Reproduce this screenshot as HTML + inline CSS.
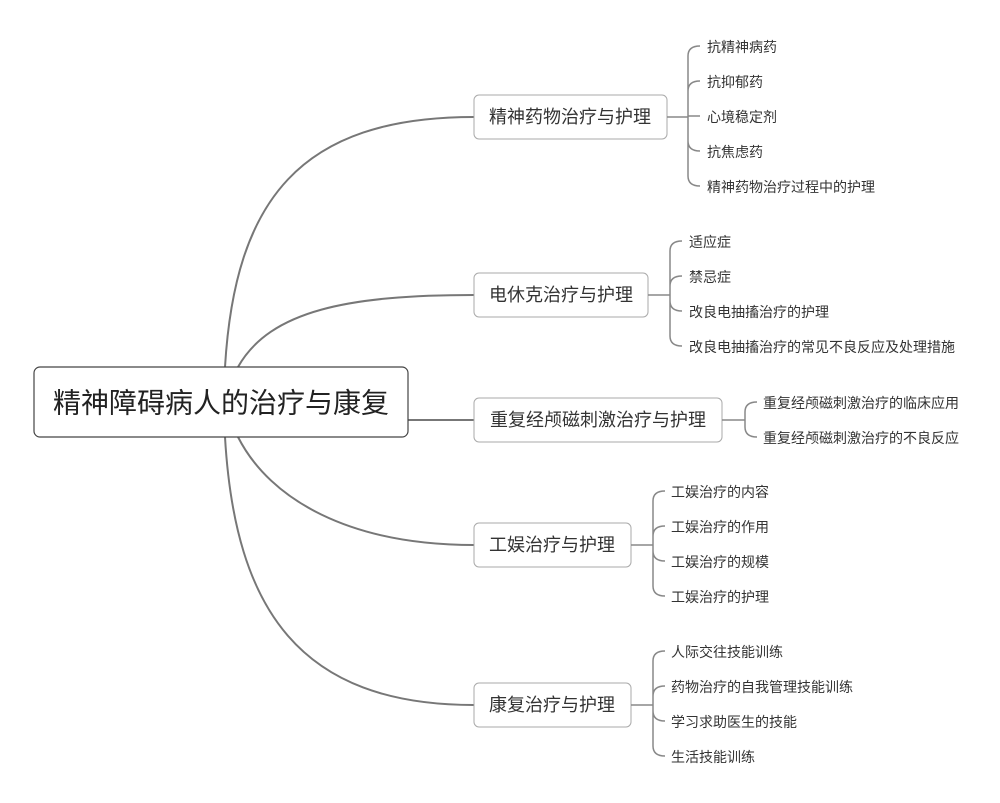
<!DOCTYPE html>
<html><head><meta charset="utf-8"><style>
body{margin:0;background:#fff;}
svg{display:block;font-family:"Liberation Sans","Noto Sans CJK SC",sans-serif;}
.l{font-size:14px;fill:#333;dominant-baseline:central;}
.b{font-size:18px;fill:#333;dominant-baseline:central;}
.c{fill:none;stroke:#888;stroke-width:1.5;}
.m{fill:none;stroke:#777;stroke-width:2;}
</style></head><body>
<svg width="1000" height="803" viewBox="0 0 1000 803">
<path class="m" d="M225 367 C235 200 300 117 474 117"/>
<path class="m" d="M238 367 C270 310 350 295 474 295"/>
<path class="m" d="M408 420 L474 420"/>
<path class="m" d="M238 437 C270 500 350 545 474 545"/>
<path class="m" d="M225 437 C235 610 300 705 474 705"/>
<rect x="34" y="367" width="374" height="70" rx="6" fill="#fff" stroke="#444" stroke-width="1.2"/>
<text x="221" y="403" text-anchor="middle" style="font-size:28px;fill:#222;dominant-baseline:central">精神障碍病人的治疗与康复</text>
<rect x="474" y="95" width="193" height="44" rx="5" fill="#fff" stroke="#aaa"/>
<text class="b" x="570" y="117" text-anchor="middle">精神药物治疗与护理</text>
<rect x="474" y="273" width="174" height="44" rx="5" fill="#fff" stroke="#aaa"/>
<text class="b" x="561" y="295" text-anchor="middle">电休克治疗与护理</text>
<rect x="474" y="398" width="248" height="44" rx="5" fill="#fff" stroke="#aaa"/>
<text class="b" x="598" y="420" text-anchor="middle">重复经颅磁刺激治疗与护理</text>
<rect x="474" y="523" width="157" height="44" rx="5" fill="#fff" stroke="#aaa"/>
<text class="b" x="552" y="545" text-anchor="middle">工娱治疗与护理</text>
<rect x="474" y="683" width="157" height="44" rx="5" fill="#fff" stroke="#aaa"/>
<text class="b" x="552" y="705" text-anchor="middle">康复治疗与护理</text>
<path class="c" d="M667 117 L688 117 M688 117 L688 56 Q688 46 700 46 M688 117 L688 91 Q688 81 700 81 M688 116 L700 116 M688 117 L688 141 Q688 151 700 151 M688 117 L688 176 Q688 186 700 186"/>
<text class="l" x="707" y="47">抗精神病药</text>
<text class="l" x="707" y="82">抗抑郁药</text>
<text class="l" x="707" y="117">心境稳定剂</text>
<text class="l" x="707" y="152">抗焦虑药</text>
<text class="l" x="707" y="187">精神药物治疗过程中的护理</text>
<path class="c" d="M648 295 L670 295 M670 295 L670 251 Q670 241 682 241 M670 295 L670 286 Q670 276 682 276 M670 295 L670 301 Q670 311 682 311 M670 295 L670 336 Q670 346 682 346"/>
<text class="l" x="689" y="242">适应症</text>
<text class="l" x="689" y="277">禁忌症</text>
<text class="l" x="689" y="312">改良电抽搐治疗的护理</text>
<text class="l" x="689" y="347">改良电抽搐治疗的常见不良反应及处理措施</text>
<path class="c" d="M722 420 L745 420 M745 420 L745 412 Q745 402 757 402 M745 420 L745 427 Q745 437 757 437"/>
<text class="l" x="763" y="403">重复经颅磁刺激治疗的临床应用</text>
<text class="l" x="763" y="438">重复经颅磁刺激治疗的不良反应</text>
<path class="c" d="M631 545 L653 545 M653 545 L653 501 Q653 491 665 491 M653 545 L653 536 Q653 526 665 526 M653 545 L653 551 Q653 561 665 561 M653 545 L653 586 Q653 596 665 596"/>
<text class="l" x="671" y="492">工娱治疗的内容</text>
<text class="l" x="671" y="527">工娱治疗的作用</text>
<text class="l" x="671" y="562">工娱治疗的规模</text>
<text class="l" x="671" y="597">工娱治疗的护理</text>
<path class="c" d="M631 705 L653 705 M653 705 L653 661 Q653 651 665 651 M653 705 L653 696 Q653 686 665 686 M653 705 L653 711 Q653 721 665 721 M653 705 L653 746 Q653 756 665 756"/>
<text class="l" x="671" y="652">人际交往技能训练</text>
<text class="l" x="671" y="687">药物治疗的自我管理技能训练</text>
<text class="l" x="671" y="722">学习求助医生的技能</text>
<text class="l" x="671" y="757">生活技能训练</text>
</svg>
</body></html>
